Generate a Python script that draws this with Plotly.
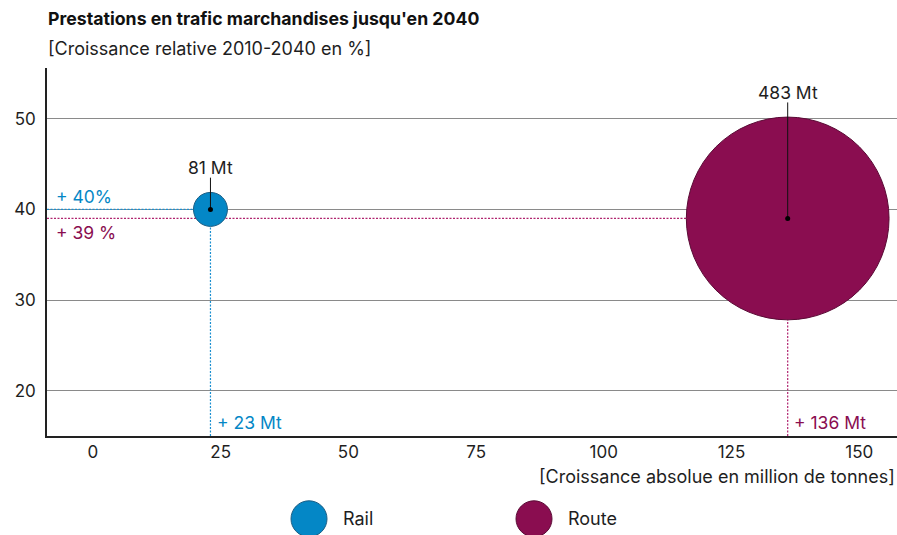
import plotly.graph_objects as go

modes = ["Rail", "Route"]
abs_growth = [23, 136]          # Mt
rel_growth = [40, 39]           # %
volume_2040 = [81, 483]         # Mt (bubble size)
rel_labels = ["+ 40%", "+ 39 %"]
abs_labels = ["+ 23 Mt", "+ 136 Mt"]
vol_labels = ["81 Mt", "483 Mt"]
colors = ["#0487c6", "#8a0d50"]
outline = ["#1b5e85", "#5a0a35"]
line_colors = ["#1a8fd0", "#b0246f"]

x_ticks = [0, 25, 50, 75, 100, 125, 150]
y_ticks = [20, 30, 40, 50]

XMIN, XMAX = -9, 157.4
YMIN, YMAX = 15, 55.6
FONT = "Inter"
TXT = "#1e1e1e"
LBL = 17.5
DOT = "2px,1.5px"

fig = go.Figure()

# guide lines
for i in range(2):
    fig.add_trace(go.Scatter(x=[XMIN, abs_growth[i]], y=[rel_growth[i]] * 2, mode="lines",
                             line=dict(color=line_colors[i], width=1.2, dash=DOT),
                             hoverinfo="skip", showlegend=False))
    fig.add_trace(go.Scatter(x=[abs_growth[i]] * 2, y=[YMIN, rel_growth[i]], mode="lines",
                             line=dict(color=line_colors[i], width=1.2, dash=DOT),
                             hoverinfo="skip", showlegend=False))

# bubbles (diameter proportional to volume)
px_per_mt = 34 / 81
fig.add_trace(go.Scatter(
    x=abs_growth, y=rel_growth, mode="markers",
    marker=dict(size=volume_2040, sizemode="diameter", sizeref=1 / px_per_mt,
                color=colors, opacity=1, line=dict(color=outline, width=1)),
    hoverinfo="skip", showlegend=False))

# connectors and labels
label_y = [44.6, 52.9]
line_top = [43.5, 51.8]
for i in range(2):
    fig.add_trace(go.Scatter(x=[abs_growth[i]] * 2, y=[rel_growth[i], line_top[i]], mode="lines",
                             line=dict(color="#111", width=1), hoverinfo="skip", showlegend=False))
    fig.add_annotation(x=abs_growth[i], y=label_y[i], text=vol_labels[i], showarrow=False,
                       font=dict(size=LBL, color=TXT, family=FONT), xanchor="center", yanchor="middle")
fig.add_trace(go.Scatter(x=abs_growth, y=rel_growth, mode="markers",
                         marker=dict(size=5, color="#000"), hoverinfo="skip", showlegend=False))

# relative labels
fig.add_annotation(x=XMIN + 1.3, y=41.4, text=rel_labels[0], showarrow=False, xanchor="left",
                   font=dict(size=LBL, color=colors[0], family=FONT))
fig.add_annotation(x=XMIN + 1.3, y=37.4, text=rel_labels[1], showarrow=False, xanchor="left",
                   font=dict(size=LBL, color=colors[1], family=FONT))
# absolute labels
for i in range(2):
    fig.add_annotation(x=abs_growth[i] + 0.8, y=16.5, text=abs_labels[i], showarrow=False,
                       xanchor="left", font=dict(size=LBL, color=colors[i], family=FONT))

# titles
fig.add_annotation(xref="paper", yref="paper", x=-0.001, y=1.0, yshift=50, text="<b>Prestations en trafic marchandises jusqu'en 2040</b>",
                   showarrow=False, xanchor="left", yanchor="middle", font=dict(size=17.7, color="#111", family=FONT))
fig.add_annotation(xref="paper", yref="paper", x=-0.001, y=1.0, yshift=20, text="[Croissance relative 2010-2040 en %]",
                   showarrow=False, xanchor="left", yanchor="middle", font=dict(size=18, color=TXT, family=FONT))
fig.add_annotation(xref="paper", yref="paper", x=1.0, y=0, yshift=-40, text="[Croissance absolue en million de tonnes]",
                   showarrow=False, xanchor="right", yanchor="middle", font=dict(size=18, color=TXT, family=FONT))

# custom legend
leg_x = [309, 534]
for i in range(2):
    xp = (leg_x[i] - 47) / 850
    fig.add_shape(type="circle", xref="paper", yref="paper", xsizemode="pixel", ysizemode="pixel",
                  xanchor=xp, yanchor=-0.225, x0=-18, x1=18, y0=-18, y1=18,
                  fillcolor=colors[i], line=dict(color=outline[i], width=1))
    fig.add_annotation(xref="paper", yref="paper", x=xp, xshift=32, y=-0.225, text=modes[i],
                       showarrow=False, xanchor="left", yanchor="middle",
                       font=dict(size=18, color=TXT, family=FONT))

fig.update_layout(
    width=897, height=535,
    margin=dict(l=47, r=0, t=68, b=99),
    paper_bgcolor="white", plot_bgcolor="white",
    font=dict(family=FONT, size=17, color=TXT),
    xaxis=dict(range=[XMIN, XMAX], tickvals=x_ticks, showgrid=False, zeroline=False,
               showline=True, linecolor="#222", linewidth=1.5, ticks="", tickfont=dict(size=17, color=TXT)),
    yaxis=dict(range=[YMIN, YMAX], tickvals=y_ticks, showgrid=True, gridcolor="#8a8a8a", gridwidth=1,
               zeroline=False, showline=True, linecolor="#222", linewidth=1.5, ticks="",
               ticklabelstandoff=6, tickfont=dict(size=17, color=TXT)),
    showlegend=False,
)

fig.write_html("out.html")
